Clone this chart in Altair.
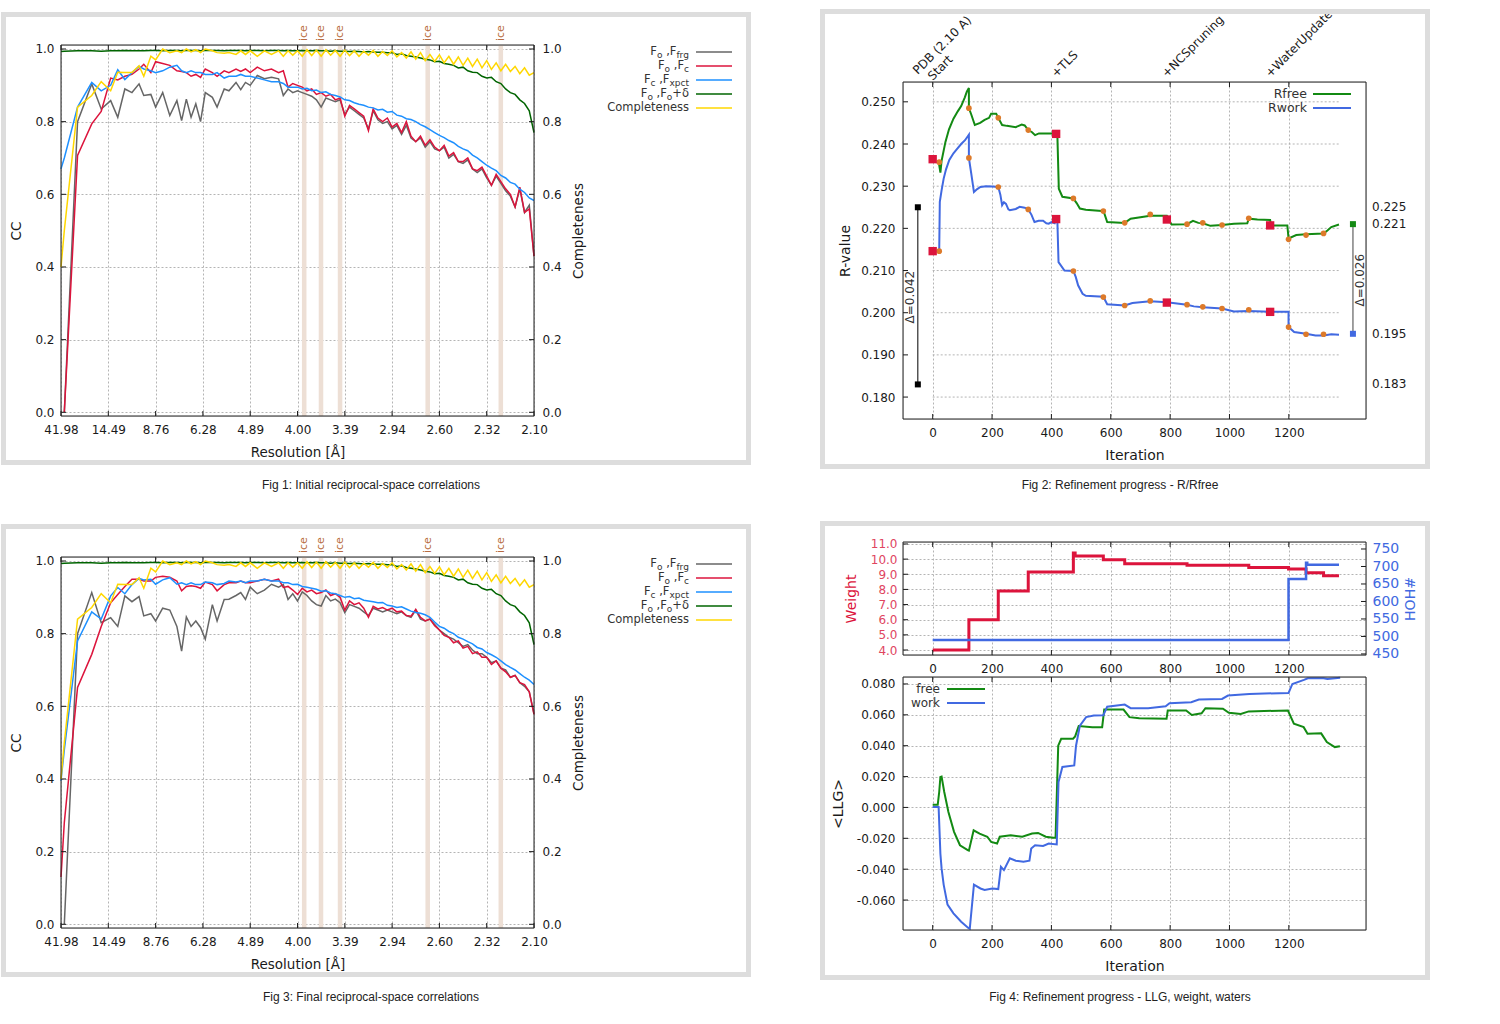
import altair as alt
import pandas as pd

# ======================= DATA =======================
# --- Fig 1 / Fig 3 : reciprocal-space correlations ---
res_labels = ["41.98", "14.49", "8.76", "6.28", "4.89", "4.00", "3.39", "2.94", "2.60", "2.32", "2.10"]
ice_res = [3.90, 3.67, 3.44, 2.67, 2.25]
cc_ticks = [0.0, 0.2, 0.4, 0.6, 0.8, 1.0]

bin_low = [0.0, 0.07, 0.35, 0.65, 0.85, 1.05, 1.2, 1.35, 1.5, 1.65, 1.75, 1.9, 2.0, 2.15, 2.3, 2.45,
           2.55, 2.65, 2.75, 2.85, 2.95, 3.05, 3.2, 3.3, 3.45, 3.55, 3.7, 3.8, 3.9, 4.0, 4.15, 4.3,
           4.45, 4.6, 4.7, 4.8, 4.9]
bin_high = [5.0, 5.1, 5.2, 5.3, 5.4, 5.5, 5.6, 5.7, 5.8, 5.9, 6.0, 6.1, 6.2, 6.3, 6.4, 6.5, 6.6, 6.7,
            6.8, 6.9, 7.0, 7.1, 7.2, 7.3, 7.4, 7.5, 7.6, 7.7, 7.8, 7.9, 8.0, 8.1, 8.2, 8.3, 8.4, 8.5,
            8.6, 8.7, 8.8, 8.9, 9.0, 9.1, 9.2, 9.3, 9.4, 9.5, 9.6, 9.7, 9.8, 9.9, 10.0]

gray1 = [None, 0.0, 0.80, 0.904, 0.835, 0.858, 0.812, 0.89, 0.88, 0.904, 0.872, 0.875, 0.84, 0.88,
         0.817, 0.858, 0.803, 0.862, 0.812, 0.849, 0.80, 0.88, 0.867, 0.84, 0.89, 0.885, 0.908, 0.888,
         0.908, 0.90, 0.927, 0.918, 0.922, 0.918, 0.872, 0.89, 0.88,
         0.885, 0.88, 0.875, 0.87, 0.86, 0.84, 0.865, 0.86, 0.855, 0.86, 0.82, 0.84, 0.83, 0.82, 0.81,
         0.78, 0.83, 0.805, 0.795, 0.80, 0.78, 0.79, 0.765, 0.79, 0.755, 0.745, 0.755, 0.73, 0.745,
         0.725, 0.72, 0.73, 0.70, 0.71, 0.69, 0.685, 0.695, 0.67, 0.66, 0.67, 0.645, 0.625, 0.65,
         0.63, 0.61, 0.595, 0.565, 0.615, 0.55, 0.57, 0.43]
red1 = [None, 0.0, 0.707, 0.794, 0.828, 0.92, 0.915, 0.925, 0.93, 0.945, 0.958, 0.935, 0.965, 0.96,
        0.955, 0.94, 0.938, 0.935, 0.925, 0.93, 0.922, 0.945, 0.935, 0.925, 0.94, 0.935, 0.945, 0.938,
        0.945, 0.935, 0.95, 0.94, 0.945, 0.935, 0.94, 0.895, 0.905,
        0.90, 0.895, 0.885, 0.89, 0.875, 0.88, 0.87, 0.875, 0.86, 0.865, 0.815, 0.845, 0.835, 0.825,
        0.815, 0.775, 0.835, 0.81, 0.80, 0.81, 0.785, 0.795, 0.77, 0.80, 0.76, 0.745, 0.76, 0.735,
        0.75, 0.73, 0.72, 0.735, 0.705, 0.715, 0.69, 0.69, 0.70, 0.67, 0.665, 0.675, 0.65, 0.625,
        0.655, 0.635, 0.615, 0.60, 0.565, 0.62, 0.55, 0.56, 0.43]
blue1 = [0.67, 0.70, 0.84, 0.908, 0.885, 0.90, 0.943, 0.916, 0.935, 0.952, 0.945, 0.94, 0.935, 0.94,
         0.95, 0.955, 0.94, 0.935, 0.94, 0.935, 0.935, 0.93, 0.93, 0.935, 0.92, 0.925, 0.925, 0.93,
         0.925, 0.925, 0.92, 0.915, 0.91, 0.91, 0.905, 0.895, 0.895,
         0.895, 0.89, 0.892, 0.885, 0.887, 0.88, 0.882, 0.875, 0.872, 0.868, 0.86, 0.858, 0.852,
         0.848, 0.845, 0.84, 0.838, 0.832, 0.834, 0.826, 0.828, 0.818, 0.815, 0.808, 0.806, 0.80,
         0.792, 0.786, 0.778, 0.77, 0.762, 0.756, 0.748, 0.742, 0.732, 0.725, 0.72, 0.708, 0.70,
         0.69, 0.68, 0.672, 0.665, 0.652, 0.645, 0.633, 0.628, 0.614, 0.605, 0.59, 0.583]
green_cc = [0.993, 0.994, 0.995, 0.995, 0.994, 0.995, 0.995, 0.996, 0.995, 0.995, 0.995, 0.996, 0.996,
            0.995, 0.996, 0.996, 0.995, 0.996, 0.996, 0.996, 0.995, 0.996, 0.996, 0.996, 0.995, 0.996,
            0.996, 0.996, 0.995, 0.996, 0.996, 0.995, 0.996, 0.996, 0.995, 0.996, 0.995,
            0.995, 0.996, 0.995, 0.995, 0.996, 0.995, 0.995, 0.994, 0.995, 0.994, 0.994, 0.993, 0.994,
            0.993, 0.992, 0.993, 0.992, 0.991, 0.991, 0.99, 0.99, 0.985, 0.987, 0.982, 0.98, 0.978,
            0.975, 0.972, 0.97, 0.965, 0.966, 0.96, 0.958, 0.955, 0.948, 0.95, 0.94, 0.936, 0.935,
            0.925, 0.92, 0.922, 0.91, 0.905, 0.89, 0.88, 0.875, 0.86, 0.85, 0.83, 0.77]
completeness = [0.40, 0.50, 0.84, 0.872, 0.91, 0.885, 0.936, 0.935, 0.935, 0.954, 0.925, 0.98, 0.97,
                1.0, 0.99, 0.995, 0.99, 1.0, 0.992, 0.998, 0.99, 1.0, 0.995, 0.99, 0.988, 0.99, 0.985,
                0.995, 0.985, 0.995, 0.98, 0.995, 0.985, 0.995, 0.98, 0.995, 0.983,
                0.995, 0.98, 0.998, 0.982, 0.997, 0.98, 0.998, 0.983, 0.996, 0.98, 0.997, 0.982, 0.995,
                0.98, 0.994, 0.983, 0.996, 0.98, 0.993, 0.982, 0.995, 0.978, 0.99, 0.975, 0.992, 0.972,
                0.99, 0.968, 0.985, 0.966, 0.984, 0.962, 0.98, 0.958, 0.978, 0.955, 0.975, 0.952, 0.972,
                0.948, 0.968, 0.944, 0.962, 0.94, 0.958, 0.938, 0.952, 0.932, 0.948, 0.928, 0.935]

gray3 = [None, 0.0, 0.80, 0.913, 0.83, 0.844, 0.82, 0.904, 0.888, 0.902, 0.849, 0.855, 0.835, 0.87,
         0.865, 0.82, 0.752, 0.846, 0.82, 0.835, 0.817, 0.785, 0.88, 0.835, 0.894, 0.895, 0.905, 0.913,
         0.894, 0.928, 0.91, 0.92, 0.936, 0.928, 0.935, 0.894, 0.91,
         0.89, 0.915, 0.905, 0.89, 0.88, 0.876, 0.905, 0.89, 0.895, 0.885, 0.858, 0.88, 0.875, 0.87,
         0.86, 0.85, 0.87, 0.865, 0.86, 0.865, 0.86, 0.855, 0.86, 0.85, 0.845, 0.865, 0.84, 0.835,
         0.84, 0.825, 0.81, 0.80, 0.79, 0.785, 0.775, 0.765, 0.77, 0.755, 0.745, 0.745, 0.735, 0.72,
         0.725, 0.705, 0.70, 0.68, 0.685, 0.665, 0.655, 0.64, 0.58]
red3 = [0.13, 0.28, 0.652, 0.743, 0.82, 0.885, 0.908, 0.93, 0.95, 0.95, 0.945, 0.945, 0.955, 0.958,
        0.955, 0.945, 0.918, 0.93, 0.932, 0.93, 0.925, 0.942, 0.935, 0.918, 0.935, 0.94, 0.94, 0.945,
        0.94, 0.94, 0.945, 0.95, 0.945, 0.95, 0.927, 0.93, 0.92,
        0.908, 0.925, 0.915, 0.92, 0.91, 0.913, 0.92, 0.905, 0.91, 0.90, 0.865, 0.89, 0.88, 0.885,
        0.87, 0.845, 0.875, 0.868, 0.872, 0.865, 0.87, 0.86, 0.862, 0.85, 0.848, 0.867, 0.845, 0.835,
        0.84, 0.822, 0.81, 0.795, 0.79, 0.775, 0.78, 0.76, 0.765, 0.745, 0.75, 0.735, 0.735, 0.715,
        0.725, 0.705, 0.695, 0.68, 0.685, 0.665, 0.66, 0.64, 0.578]
blue3 = [0.395, 0.48, 0.78, 0.86, 0.84, 0.904, 0.927, 0.91, 0.935, 0.952, 0.948, 0.95, 0.936, 0.948,
         0.954, 0.936, 0.94, 0.935, 0.94, 0.935, 0.935, 0.942, 0.94, 0.935, 0.938, 0.945, 0.942, 0.945,
         0.94, 0.945, 0.945, 0.95, 0.945, 0.945, 0.94, 0.94, 0.935,
         0.936, 0.93, 0.928, 0.925, 0.922, 0.917, 0.918, 0.912, 0.91, 0.905, 0.90, 0.902, 0.896,
         0.898, 0.892, 0.89, 0.888, 0.885, 0.886, 0.878, 0.876, 0.872, 0.874, 0.868, 0.862, 0.858,
         0.856, 0.852, 0.845, 0.832, 0.82, 0.815, 0.806, 0.80, 0.79, 0.785, 0.778, 0.772, 0.762,
         0.758, 0.748, 0.742, 0.735, 0.725, 0.715, 0.707, 0.70, 0.69, 0.68, 0.672, 0.66]

# --- Fig 2 : R / Rfree ---
it_ticks = [0, 200, 400, 600, 800, 1000, 1200]
r_ticks = [0.18, 0.19, 0.20, 0.21, 0.22, 0.23, 0.24, 0.25]
rfree_it = [20, 26, 30, 43, 55, 70, 85, 96, 108, 115, 122, 122, 130, 142, 160, 175, 190, 197, 214, 221,
            234, 250, 280, 300, 310, 322, 335, 345, 358, 380, 416, 420, 425, 437, 474, 485, 496, 516,
            570, 578, 588, 647, 667, 733, 760, 789, 795, 805, 857, 877, 895, 910, 936, 975, 1015,
            1060, 1065, 1094, 1137, 1140, 1195, 1199, 1225, 1258, 1317, 1330, 1343, 1369]
rfree_v = [0.2359, 0.2332, 0.2360, 0.2405, 0.2435, 0.2460, 0.2478, 0.2490, 0.2510, 0.2524, 0.2533,
           0.2485, 0.2470, 0.2445, 0.2450, 0.2457, 0.2462, 0.2472, 0.2472, 0.2462, 0.2445, 0.2443,
           0.2440, 0.2446, 0.2444, 0.2433, 0.2428, 0.2421, 0.2425, 0.2425, 0.2425, 0.2424, 0.2294,
           0.2275, 0.2271, 0.2260, 0.2247, 0.2244, 0.2241, 0.2236, 0.2215, 0.2213, 0.2223, 0.2230,
           0.2230, 0.2230, 0.2221, 0.2209, 0.2210, 0.2218, 0.2213, 0.2212, 0.2206, 0.2208, 0.2211,
           0.2212, 0.2223, 0.2221, 0.2220, 0.2207, 0.2207, 0.2176, 0.2184, 0.2186, 0.2188, 0.2195,
           0.2203, 0.2209]
rwork_it = [17, 22, 24, 30, 37, 45, 56, 70, 83, 96, 109, 122, 122, 130, 139, 150, 161, 180, 201, 221,
            228, 234, 240, 247, 255, 260, 280, 293, 310, 322, 333, 343, 357, 372, 383, 391, 400, 411,
            416, 420, 424, 444, 474, 482, 490, 505, 516, 575, 588, 647, 673, 733, 789, 857, 880, 910,
            975, 1015, 1065, 1137, 1199, 1199, 1218, 1258, 1290, 1317, 1343, 1369]
rwork_v = [0.2144, 0.2146, 0.2263, 0.2290, 0.2318, 0.2340, 0.2362, 0.2378, 0.2389, 0.2400, 0.2409,
           0.2422, 0.2367, 0.2330, 0.2286, 0.2293, 0.2298, 0.2300, 0.2299, 0.2298, 0.2280, 0.2255,
           0.2262, 0.2258, 0.2245, 0.2243, 0.2246, 0.2251, 0.2249, 0.2245, 0.2232, 0.2215, 0.2218,
           0.2218, 0.2212, 0.2211, 0.2215, 0.2212, 0.2222, 0.2221, 0.2120, 0.2100, 0.2099, 0.2085,
           0.2065, 0.2045, 0.2040, 0.2038, 0.2020, 0.2017, 0.2023, 0.2027, 0.2025, 0.2019, 0.2015,
           0.2013, 0.2010, 0.2003, 0.2004, 0.2002, 0.2002, 0.1966, 0.1954, 0.1950, 0.1946, 0.1946,
           0.1949, 0.1948]
dot_it = [22, 122, 221, 322, 474, 575, 647, 733, 857, 910, 975, 1065, 1199, 1258, 1317]
dot_rfree = [0.2357, 0.2485, 0.2462, 0.2433, 0.2271, 0.2241, 0.2213, 0.2233, 0.2210, 0.2213, 0.2208,
             0.2224, 0.2174, 0.2184, 0.2188]
dot_rwork = [0.2146, 0.2367, 0.2298, 0.2245, 0.2099, 0.2037, 0.2017, 0.2028, 0.2019, 0.2014, 0.2010,
             0.2007, 0.1966, 0.1949, 0.1949]
sq_it = [0, 416, 789, 1137]
sq_rfree = [0.2364, 0.2424, 0.2221, 0.2207]
sq_rwork = [0.2146, 0.2222, 0.2024, 0.2002]
pdb_it, pdb_rfree, pdb_rwork = -50, 0.225, 0.183
fin_it, fin_rfree, fin_rwork = 1416, 0.221, 0.195
side_labels = ["0.225", "0.221", "0.195", "0.183"]
side_values = [0.225, 0.221, 0.195, 0.183]
stage_names = ["PDB (2.10 A)", "Start", "+TLS", "+NCSpruning", "+WaterUpdate"]
stage_it = [-50, 0, 416, 789, 1137]

# --- Fig 4 : LLG, weight, waters ---
weight_it = [0, 122, 221, 322, 474, 480, 575, 647, 857, 1065, 1199, 1258, 1317, 1369]
weight_v = [4.0, 6.0, 7.9, 9.15, 10.4, 10.2, 9.95, 9.7, 9.6, 9.45, 9.35, 9.1, 8.9, 8.9]
hoh_it = [0, 1199, 1258, 1262, 1369]
hoh_v = [490, 664, 711, 705, 705]
weight_ticks = [4.0, 5.0, 6.0, 7.0, 8.0, 9.0, 10.0, 11.0]
hoh_ticks = [450, 500, 550, 600, 650, 700, 750]
llg_ticks = [-0.06, -0.04, -0.02, 0.0, 0.02, 0.04, 0.06, 0.08]
free_it = [0, 17, 22, 26, 30, 39, 53, 72, 92, 118, 122, 138, 158, 184, 197, 217, 226, 263, 302, 335,
           355, 381, 407, 414, 423, 433, 473, 480, 492, 538, 571, 578, 643, 663, 696, 788, 792, 854,
           873, 906, 919, 978, 998, 1038, 1065, 1197, 1217, 1250, 1263, 1309, 1328, 1355, 1372]
free_v = [0.0018, 0.0018, 0.0100, 0.0197, 0.0200, 0.0100, -0.0030, -0.0158, -0.0245, -0.0277, -0.0280,
          -0.0148, -0.0170, -0.0190, -0.0223, -0.0234, -0.0190, -0.0180, -0.0190, -0.0169, -0.0165,
          -0.0190, -0.0197, -0.0197, 0.0400, 0.0445, 0.0445, 0.0460, 0.0527, 0.0520, 0.0520, 0.0634,
          0.0634, 0.0585, 0.0578, 0.0574, 0.0628, 0.0628, 0.0599, 0.0610, 0.0643, 0.0640, 0.0613,
          0.0605, 0.0622, 0.0628, 0.0542, 0.0520, 0.0477, 0.0480, 0.0423, 0.0391, 0.0397]
work_it = [0, 20, 26, 30, 37, 50, 70, 96, 119, 125, 139, 161, 175, 201, 221, 230, 240, 260, 280, 306,
           326, 332, 345, 372, 391, 418, 424, 437, 477, 483, 496, 517, 543, 575, 588, 647, 667, 726,
           785, 798, 871, 897, 975, 995, 1067, 1199, 1212, 1251, 1264, 1317, 1330, 1373]
work_v = [0.0003, 0.0003, -0.0300, -0.0395, -0.0500, -0.0630, -0.0686, -0.0740, -0.0779, -0.0785,
          -0.0500, -0.0525, -0.0535, -0.0525, -0.0529, -0.0385, -0.0406, -0.0330, -0.0345, -0.0352,
          -0.0345, -0.0266, -0.0245, -0.0250, -0.0234, -0.0240, 0.0165, 0.0262, 0.0272, 0.0400, 0.0530,
          0.0585, 0.0595, 0.0597, 0.0653, 0.0666, 0.0643, 0.0643, 0.0656, 0.0675, 0.0682, 0.0699,
          0.0703, 0.0725, 0.0735, 0.0742, 0.0800, 0.0826, 0.0837, 0.0837, 0.0832, 0.0840]

captions = ["Fig 1:  Initial reciprocal-space correlations",
            "Fig 2:  Refinement progress - R/Rfree",
            "Fig 3:  Final reciprocal-space correlations",
            "Fig 4:  Refinement progress - LLG, weight, waters"]

# ======================= STYLE =======================
FONT = "DejaVu Sans"
CAPFONT = "Liberation Sans"
INK = "#1a1a1a"
GRID = "#b4b4b4"
FRAME = "#dddddd"
C_GRAY = "#666666"
C_RED = "#dc143c"
C_BLUE = "#1e90ff"
C_DKGREEN = "#006400"
C_GOLD = "#ffd700"
C_GREEN = "#138a13"
C_ROYAL = "#4169e1"
C_ORANGE = "#dd7a2a"
C_ICE = "#eddfd5"
C_ICETXT = "#b86c40"

ONE = pd.DataFrame({"k": [0]})

EM = {'F': 0.575, 'o': 0.612, ' ': 0.318, ',': 0.318, 'f': 0.352, 'r': 0.411, 'g': 0.635,
      'c': 0.55, 'x': 0.592, 'p': 0.635, 't': 0.392, '+': 0.838, 'δ': 0.612, 'C': 0.698,
      'm': 0.974, 'l': 0.278, 'e': 0.615, 'n': 0.634, 's': 0.521}


def tw(s, size):
    return sum(EM.get(ch, 0.6) for ch in s) * size


def axis(**kw):
    base = dict(domain=False, ticks=False, labelFont=FONT, labelFontSize=12, labelColor=INK,
                titleFont=FONT, titleFontSize=14, titleFontWeight="normal", titleColor=INK,
                gridColor=GRID, gridDash=[2, 2], gridWidth=1, labelFlush=False, labelOverlap=False)
    base.update(kw)
    return alt.Axis(**base)


def vtext(px, py, txt, size=12, color=INK, align="left", baseline="middle", angle=0, font=FONT):
    kw = dict(align=align, baseline=baseline, fontSize=size, color=color, font=font)
    if angle:
        kw["angle"] = angle
    return alt.Chart(ONE).mark_text(**kw).encode(x=alt.value(px), y=alt.value(py), text=alt.value(txt))


def vrule(x1, y1, x2, y2, color, width=1.0):
    return alt.Chart(ONE).mark_rule(color=color, strokeWidth=width).encode(
        x=alt.value(x1), y=alt.value(y1), x2=alt.value(x2), y2=alt.value(y2))


def frame(x1, y1, x2, y2):
    return alt.Chart(ONE).mark_rect(fillOpacity=0, stroke=FRAME, strokeWidth=5).encode(
        x=alt.value(x1 + 2.5), x2=alt.value(x2 - 2.5), y=alt.value(y1 + 2.5), y2=alt.value(y2 - 2.5))


def border(w, h):
    return alt.Chart(ONE).mark_rect(fillOpacity=0, stroke="#222222", strokeWidth=1).encode(
        x=alt.value(0), x2=alt.value(w), y=alt.value(0), y2=alt.value(h))


def xticks(vals, X, h, top=True, bottom=True):
    df = pd.DataFrame({"x": vals})
    out = []
    if top:
        out.append(alt.Chart(df).mark_rule(color=INK).encode(x=X, y=alt.value(0), y2=alt.value(5)))
    if bottom:
        out.append(alt.Chart(df).mark_rule(color=INK).encode(x=X, y=alt.value(h - 5), y2=alt.value(h)))
    return out


def yticks(vals, Y, w, side="left"):
    df = pd.DataFrame({"y": vals})
    if side == "left":
        return alt.Chart(df).mark_rule(color=INK).encode(y=Y, x=alt.value(0), x2=alt.value(5))
    return alt.Chart(df).mark_rule(color=INK).encode(y=Y, x=alt.value(w - 5), x2=alt.value(w))


def line(xs, ys, X, Y, color, width=1.5, interp=None):
    df = pd.DataFrame({"x": xs, "y": ys})
    kw = dict(color=color, strokeWidth=width)
    if interp:
        kw["interpolate"] = interp
    return alt.Chart(df).mark_line(**kw).encode(x=X, y=Y)


# ======================= FIG 1 / FIG 3 =======================
W1, H1 = 473, 371
LABEL_EXPR = "[" + ",".join("'%s'" % s for s in res_labels) + "][datum.value]"
inv_lo, inv_hi = 1 / 41.98, 1 / 2.10
ice_pos = [(1 / d - inv_lo) / (inv_hi - inv_lo) * 10 for d in ice_res]


def cc_panel(gray, red, blue, caption):
    xs = bin_low + bin_high
    cc_scale = alt.Scale(domain=[-0.0102, 1.011], nice=False, zero=False)
    X = alt.X("x:Q", scale=alt.Scale(domain=[0, 10], nice=False, zero=False),
              axis=axis(values=list(range(11)), labelExpr=LABEL_EXPR, grid=True, labelPadding=8,
                        title="Resolution [Å]", titleFontSize=13.5, titleX=W1 / 2, titleY=36,
                        titleBaseline="middle"))
    Y = alt.Y("y:Q", scale=cc_scale,
              axis=axis(values=cc_ticks, format=".1f", grid=True, labelPadding=7, title="CC",
                        titleFontSize=13.5, titleX=-45, titleY=H1 / 2, titleAngle=270,
                        titleBaseline="middle"))
    Yc = alt.Y("y:Q", scale=cc_scale,
               axis=axis(orient="right", values=cc_ticks, format=".1f", grid=False, labelPadding=8,
                         title="Completeness", titleFontSize=13.5, titleX=44, titleY=H1 / 2,
                         titleAngle=270, titleBaseline="middle"))
    ice_df = pd.DataFrame({"x": [p - 0.048 for p in ice_pos], "x2": [p + 0.048 for p in ice_pos]})
    ice_txt = pd.DataFrame({"x": ice_pos, "t": ["ice"] * len(ice_pos)})
    cc_layers = [
        alt.Chart(ice_df).mark_rect(color=C_ICE).encode(x=X, x2=alt.X2("x2"), y=alt.value(0), y2=alt.value(H1)),
        alt.Chart(ice_txt).mark_text(angle=270, align="left", baseline="middle", fontSize=11,
                                     color=C_ICETXT, font=FONT).encode(x=X, y=alt.value(-4), text="t:N"),
        line(xs, gray, X, Y, C_GRAY),
        line(xs, red, X, Y, C_RED),
        line(xs, blue, X, Y, C_BLUE),
        line(xs, green_cc, X, Y, C_DKGREEN),
    ]
    cc_layers += xticks(list(range(11)), X, H1)
    cc_layers += [yticks(cc_ticks, Y, W1, "left"), yticks(cc_ticks, Y, W1, "right")]
    cc_group = alt.layer(*cc_layers)
    comp_group = alt.layer(line(xs, completeness, X, Yc, C_GOLD))

    # legend (gnuplot style: text right-aligned, sample line at right)
    rows = [
        ([("F", 0), ("o", 1), (" ,F", 0), ("frg", 1)], C_GRAY),
        ([("F", 0), ("o", 1), (" ,F", 0), ("c", 1)], C_RED),
        ([("F", 0), ("c", 1), (" ,F", 0), ("xpct", 1)], C_BLUE),
        ([("F", 0), ("o", 1), (" ,F", 0), ("o", 1), ("+δ", 0)], C_DKGREEN),
        ([("Completeness", 0)], C_GOLD),
    ]
    deco = [border(W1, H1)]
    right_edge = 628
    for i, (pieces, col) in enumerate(rows):
        ry = 7 + 14 * i
        sizes = [9 if sub else 11.5 for _, sub in pieces]
        total = sum(tw(t, s) for (t, _), s in zip(pieces, sizes))
        cx = right_edge - total
        for (t, sub), s in zip(pieces, sizes):
            lead = len(t) - len(t.lstrip(" "))
            deco.append(vtext(cx + tw(" " * lead, s), ry + (3 if sub else 0), t.lstrip(" "),
                              size=s, color="#333333"))
            cx += tw(t, s)
        deco.append(vrule(635, ry, 671, ry, col, 1.5))
    deco.append(vtext(310, 440, caption, size=12, color="#222222", align="center", font=CAPFONT))
    deco.append(frame(-60, -33, 690, 420))
    return alt.layer(cc_group, comp_group, *deco).resolve_scale(y="independent").properties(width=W1, height=H1)


p1 = cc_panel(gray1, red1, blue1, captions[0])
p3 = cc_panel(gray3, red3, blue3, captions[2])

# ======================= FIG 2 =======================
W2, H2 = 463, 337
it_scale = alt.Scale(domain=[-100, 1460], nice=False, zero=False)
X2 = alt.X("x:Q", scale=it_scale,
           axis=axis(values=it_ticks, format="d", grid=True, labelPadding=8, title="Iteration",
                     titleX=W2 / 2, titleY=36, titleBaseline="middle"))
Y2 = alt.Y("y:Q", scale=alt.Scale(domain=[0.1748, 0.2547], nice=False, zero=False),
           axis=axis(values=r_ticks, format=".3f", grid=False, labelPadding=8, title="R-value",
                     titleX=-58, titleY=H2 / 2, titleAngle=270, titleBaseline="middle"))

hgrid = pd.DataFrame({"x": [0] * len(r_ticks), "x2": [1369] * len(r_ticks), "y": r_ticks})
dots = pd.DataFrame({"x": dot_it + dot_it, "y": dot_rfree + dot_rwork})
squares = pd.DataFrame({"x": sq_it + sq_it, "y": sq_rfree + sq_rwork})
pdb_bar = pd.DataFrame({"x": [pdb_it], "y": [pdb_rwork], "y2": [pdb_rfree]})
pdb_pts = pd.DataFrame({"x": [pdb_it, pdb_it], "y": [pdb_rfree, pdb_rwork]})
fin_bar = pd.DataFrame({"x": [fin_it], "y": [fin_rwork], "y2": [fin_rfree]})
fin_free = pd.DataFrame({"x": [fin_it], "y": [fin_rfree]})
fin_work = pd.DataFrame({"x": [fin_it], "y": [fin_rwork]})
delta_txt = pd.DataFrame({"x": [-75, 1440], "y": [0.2037, 0.2077],
                          "t": ["Δ=%.3f" % (pdb_rfree - pdb_rwork), "Δ=%.3f" % (fin_rfree - fin_rwork)]})
side_df = pd.DataFrame({"y": side_values, "t": side_labels})

p2_layers = [
    alt.Chart(hgrid).mark_rule(color=GRID, strokeDash=[2, 2]).encode(x=X2, x2=alt.X2("x2"), y=Y2),
    line(rfree_it, rfree_v, X2, Y2, C_GREEN, 2),
    line(rwork_it, rwork_v, X2, Y2, C_ROYAL, 2),
    alt.Chart(dots).mark_circle(size=32, color=C_ORANGE, opacity=1).encode(x=X2, y=Y2),
    alt.Chart(squares).mark_square(size=70, color=C_RED, opacity=1).encode(x=X2, y=Y2),
    alt.Chart(pdb_bar).mark_rule(color="#000000", strokeWidth=1).encode(x=X2, y=Y2, y2=alt.Y2("y2")),
    alt.Chart(pdb_pts).mark_square(size=36, color="#000000", opacity=1).encode(x=X2, y=Y2),
    alt.Chart(fin_bar).mark_rule(color="#808080", strokeWidth=1.5).encode(x=X2, y=Y2, y2=alt.Y2("y2")),
    alt.Chart(fin_free).mark_square(size=36, color=C_GREEN, opacity=1).encode(x=X2, y=Y2),
    alt.Chart(fin_work).mark_square(size=36, color=C_ROYAL, opacity=1).encode(x=X2, y=Y2),
    alt.Chart(delta_txt).mark_text(angle=270, align="center", baseline="middle", fontSize=12,
                                   color="#333333", font=FONT).encode(x=X2, y=Y2, text="t:N"),
    alt.Chart(side_df).mark_text(align="left", baseline="middle", fontSize=12, color=INK,
                                 font=FONT).encode(x=alt.value(W2 + 6), y=Y2, text="t:N"),
]
stage_dy = [-7, -1, -4, -4, -4]
for name, it, dy in zip(stage_names, stage_it, stage_dy):
    p2_layers.append(
        alt.Chart(pd.DataFrame({"x": [it], "t": [name]})).mark_text(
            angle=315, align="left", baseline="alphabetic", fontSize=12, color=INK, font=FONT
        ).encode(x=X2, y=alt.value(dy), text="t:N"))
p2_layers += xticks(it_ticks, X2, H2)
p2_layers.append(yticks(r_ticks, Y2, W2, "left"))
p2_layers += [
    border(W2, H2),
    vtext(404, 12, "Rfree", size=12.5, align="right", color="#333333"),
    vrule(410, 12, 448, 12, C_GREEN, 2),
    vtext(404, 26, "Rwork", size=12.5, align="right", color="#333333"),
    vrule(410, 26, 448, 26, C_ROYAL, 2),
    vtext(217, 403, captions[1], size=12, color="#222222", align="center", font=CAPFONT),
    frame(-83, -73, 527, 387),
]
p2 = alt.layer(*p2_layers).properties(width=W2, height=H2)

# ======================= FIG 4 (top: weight / waters) =======================
H4a, H4b = 113, 253
Xa = alt.X("x:Q", scale=it_scale, axis=axis(values=it_ticks, format="d", grid=True, labelPadding=8, title=None))
Yw = alt.Y("y:Q", scale=alt.Scale(domain=[3.67, 11.13], nice=False, zero=False),
           axis=axis(values=weight_ticks, format=".1f", grid=True, labelPadding=6, labelColor="#e0455f",
                     title="Weight", titleColor=C_RED, titleX=-52, titleY=H4a / 2, titleAngle=270,
                     titleBaseline="middle"))
Yh = alt.Y("y:Q", scale=alt.Scale(domain=[447, 770], nice=False, zero=False),
           axis=axis(orient="right", values=hoh_ticks, format="d", grid=False, labelPadding=6,
                     labelFontSize=14, labelColor=C_ROYAL, title="HOH#", titleColor=C_ROYAL,
                     titleX=44, titleY=H4a / 2, titleAngle=270, titleBaseline="middle"))
w_layers = [line(weight_it, weight_v, Xa, Yw, C_RED, 3, "step-after")]
w_layers += xticks(it_ticks, Xa, H4a)
w_layers.append(yticks(weight_ticks, Yw, W2, "left"))
h_layers = [line(hoh_it, hoh_v, Xa, Yh, C_ROYAL, 2.5, "step-after"), yticks(hoh_ticks, Yh, W2, "right")]
p4a = alt.layer(alt.layer(*w_layers), alt.layer(*h_layers), border(W2, H4a)).resolve_scale(
    y="independent").properties(width=W2, height=H4a)

# ======================= FIG 4 (bottom: LLG) =======================
Xb = alt.X("x:Q", scale=it_scale,
           axis=axis(values=it_ticks, format="d", grid=True, labelPadding=8, title="Iteration",
                     titleX=W2 / 2, titleY=36, titleBaseline="middle"))
Yl = alt.Y("y:Q", scale=alt.Scale(domain=[-0.0794, 0.0845], nice=False, zero=False),
           axis=axis(values=llg_ticks, labelExpr="replace(format(datum.value, '.3f'), '\u2212', '-')",
                     grid=True, labelPadding=8, title="<LLG>",
                     titleX=-65, titleY=H4b / 2, titleAngle=270, titleBaseline="middle"))
l_layers = [
    line(free_it, free_v, Xb, Yl, C_GREEN, 2),
    line(work_it, work_v, Xb, Yl, C_ROYAL, 2),
]
l_layers += xticks(it_ticks, Xb, H4b)
l_layers.append(yticks(llg_ticks, Yl, W2, "left"))
l_layers += [
    border(W2, H4b),
    vtext(37, 12, "free", align="right", color="#333333"),
    vrule(44, 12, 82, 12, C_GREEN, 2),
    vtext(37, 26, "work", align="right", color="#333333"),
    vrule(44, 26, 82, 26, C_ROYAL, 2),
    vtext(217, 320, captions[3], size=12, color="#222222", align="center", font=CAPFONT),
    frame(-83, -156, 527, 303),
]
p4b = alt.layer(*l_layers).properties(width=W2, height=H4b)


def spacer(h):
    return alt.Chart(ONE).mark_point(opacity=0).encode(x=alt.value(0), y=alt.value(0)).properties(
        width=W2, height=h, view=alt.ViewBackground(stroke="transparent", strokeWidth=0))


left = alt.vconcat(p1, p3, spacing=141, bounds="flush")
right = alt.vconcat(spacer(15), p2, spacer(79), p4a, p4b, spacing=22, bounds="flush")
chart = alt.hconcat(left, right, spacing=67).properties(
    padding={"left": 0, "top": 7, "right": 0, "bottom": 0}
).configure_view(stroke="transparent", strokeWidth=0).configure(background="white")

chart.save("out.html", embed_options={"renderer": "svg", "actions": False})
